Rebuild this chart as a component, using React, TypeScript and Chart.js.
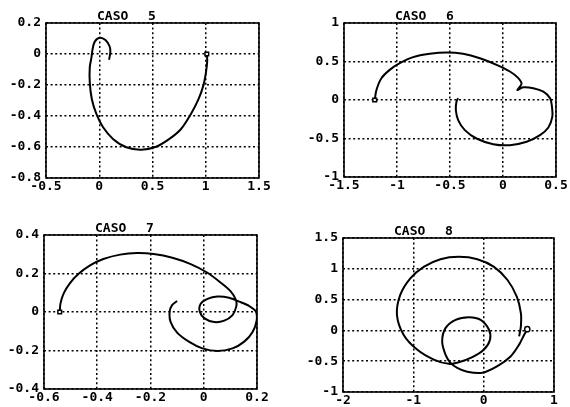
import { useEffect, useRef } from "react";
import { Chart, registerables } from "chart.js";

Chart.register(...registerables);

// ---- CASO 5 ----
const caso5X = [1.01, 1.014, 1.002, 0.977, 0.933, 0.861, 0.768, 0.659, 0.534, 0.394, 0.254, 0.129, 0.036, -0.027, -0.07, -0.089, -0.089, -0.073, -0.063, -0.042, 0.005, 0.058, 0.097, 0.104, 0.092];
const caso5Y = [0, -0.043, -0.118, -0.204, -0.29, -0.387, -0.484, -0.548, -0.598, -0.617, -0.602, -0.548, -0.473, -0.387, -0.29, -0.183, -0.086, -0.022, 0.03, 0.08, 0.105, 0.09, 0.05, 0.011, -0.037];
const caso5XTicks = [-0.5, 0, 0.5, 1, 1.5];
const caso5YTicks = [-0.8, -0.6, -0.4, -0.2, 0, 0.2];

// ---- CASO 6 ----
const caso6X = [-1.21, -1.194, -1.147, -1.069, -0.974, -0.848, -0.691, -0.533, -0.376, -0.218, -0.061, 0.065, 0.14, 0.175, 0.135, 0.19, 0.286, 0.381, 0.444, 0.462, 0.465, 0.428, 0.349, 0.223, 0.065, -0.092, -0.25, -0.36, -0.423, -0.445, -0.439, -0.423];
const caso6Y = [0, 0.13, 0.283, 0.391, 0.478, 0.557, 0.6, 0.617, 0.6, 0.543, 0.457, 0.37, 0.29, 0.21, 0.13, 0.165, 0.153, 0.108, 0.022, -0.09, -0.22, -0.357, -0.457, -0.543, -0.587, -0.574, -0.5, -0.391, -0.261, -0.13, -0.022, 0.022];
const caso6XTicks = [-1.5, -1, -0.5, 0, 0.5];
const caso6YTicks = [-1, -0.5, 0, 0.5, 1];

// ---- CASO 7 ----
const caso7X = [-0.541, -0.538, -0.526, -0.503, -0.471, -0.427, -0.377, -0.314, -0.251, -0.188, -0.118, -0.049, 0.014, 0.064, 0.102, 0.121, 0.122, 0.108, 0.077, 0.039, 0.003, -0.015, -0.012, 0.014, 0.051, 0.095, 0.133, 0.171, 0.196, 0.199, 0.184, 0.152, 0.108, 0.051, -0.005, -0.056, -0.1, -0.125, -0.128, -0.119, -0.1];
const caso7Y = [0, 0.045, 0.097, 0.149, 0.197, 0.242, 0.275, 0.298, 0.306, 0.301, 0.282, 0.249, 0.204, 0.152, 0.106, 0.062, 0.028, -0.016, -0.045, -0.052, -0.033, 0.002, 0.042, 0.068, 0.08, 0.074, 0.054, 0.031, 0.002, -0.042, -0.102, -0.154, -0.189, -0.203, -0.189, -0.154, -0.107, -0.05, 0.002, 0.036, 0.057];
const caso7XTicks = [-0.6, -0.4, -0.2, 0, 0.2];
const caso7YTicks = [-0.4, -0.2, 0, 0.2, 0.4];

// ---- CASO 8 ----
const caso8X = [0.62, 0.576, 0.504, 0.386, 0.195, -0.019, -0.233, -0.376, -0.471, -0.543, -0.59, -0.543, -0.4, -0.21, -0.043, 0.076, 0.09, 0.004, -0.161, -0.353, -0.496, -0.71, -0.947, -1.139, -1.233, -1.186, -1.043, -0.853, -0.614, -0.353, -0.09, 0.147, 0.339, 0.471, 0.529, 0.529, 0.504];
const caso8Y = [0.02, -0.07, -0.231, -0.419, -0.581, -0.688, -0.672, -0.608, -0.527, -0.392, -0.177, 0.037, 0.172, 0.215, 0.172, 0.011, -0.15, -0.311, -0.435, -0.516, -0.543, -0.473, -0.311, -0.07, 0.253, 0.576, 0.844, 1.032, 1.156, 1.194, 1.156, 1.032, 0.818, 0.548, 0.28, 0.065, -0.097];
const caso8XTicks = [-2, -1, 0, 1];
const caso8YTicks = [-1, -0.5, 0, 0.5, 1, 1.5];

const FONT_FAMILY = "'DejaVu Sans Mono', monospace";
const INK = "#000";

// space reserved around each plot frame inside its canvas
const ML = 46;
const MT = 24;
const MR = 14;
const MB = 18;

type Frame = { left: number; top: number; right: number; bottom: number };

type PanelSpec = {
  caso: string;
  xs: number[];
  ys: number[];
  xTicks: number[];
  yTicks: number[];
  marker: "rect" | "circle";
  frame: Frame;
};

const panels: PanelSpec[] = [
  { caso: "5", xs: caso5X, ys: caso5Y, xTicks: caso5XTicks, yTicks: caso5YTicks, marker: "rect", frame: { left: 46, top: 23, right: 259, bottom: 178 } },
  { caso: "6", xs: caso6X, ys: caso6Y, xTicks: caso6XTicks, yTicks: caso6YTicks, marker: "rect", frame: { left: 344, top: 23, right: 556, bottom: 177 } },
  { caso: "7", xs: caso7X, ys: caso7Y, xTicks: caso7XTicks, yTicks: caso7YTicks, marker: "rect", frame: { left: 44, top: 235, right: 257, bottom: 389 } },
  { caso: "8", xs: caso8X, ys: caso8Y, xTicks: caso8XTicks, yTicks: caso8YTicks, marker: "circle", frame: { left: 343, top: 238, right: 554, bottom: 392 } },
];

// Draws the closed box around the plot and the "CASO n" heading.
const framePlugin = {
  id: "frameAndHeading",
  afterDatasetsDraw(chart: any, _args: any, opts: any) {
    const { ctx, chartArea } = chart;
    const { left, top, right, bottom } = chartArea;
    ctx.save();
    ctx.strokeStyle = INK;
    ctx.lineWidth = 1.6;
    ctx.strokeRect(left, top, right - left, bottom - top);
    ctx.fillStyle = INK;
    ctx.font = `bold 13px ${FONT_FAMILY}`;
    ctx.textBaseline = "alphabetic";
    ctx.textAlign = "left";
    ctx.fillText("CASO", left + 51, top - 3);
    ctx.fillText(opts.caso, left + 102, top - 3);
    ctx.restore();
  },
};

function PhasePanel({ spec }: { spec: PanelSpec }) {
  const ref = useRef<HTMLCanvasElement | null>(null);
  const { frame } = spec;
  const width = frame.right - frame.left + ML + MR;
  const height = frame.bottom - frame.top + MT + MB;

  useEffect(() => {
    if (!ref.current) return;
    const points = spec.xs.map((x, i) => ({ x, y: spec.ys[i] }));
    const tickFont = { family: FONT_FAMILY, size: 13, weight: "bold" as const };
    const axisCommon = (ticks: number[]) => ({
      type: "linear" as const,
      min: ticks[0],
      max: ticks[ticks.length - 1],
      afterBuildTicks: (scale: any) => {
        scale.ticks = ticks.map((v) => ({ value: v }));
      },
      grid: { color: INK, lineWidth: 1.5, drawTicks: false },
      border: { display: false, dash: [2, 2.6] },
    });

    const chart = new Chart(ref.current, {
      type: "scatter",
      data: {
        datasets: [
          {
            data: points,
            showLine: true,
            borderColor: INK,
            borderWidth: 2,
            tension: 0.3,
            fill: false,
            pointStyle: spec.marker,
            pointRadius: (c: any) => (c.dataIndex === 0 ? 2.6 : 0),
            pointBackgroundColor: "#fff",
            pointBorderColor: INK,
            pointBorderWidth: 1.5,
            pointHoverRadius: 0,
          },
        ],
      },
      options: {
        responsive: false,
        animation: false,
        events: [],
        layout: { padding: { left: 0, top: MT, right: MR, bottom: 0 } },
        plugins: {
          legend: { display: false },
          tooltip: { enabled: false },
          frameAndHeading: { caso: spec.caso },
        } as any,
        scales: {
          x: {
            ...axisCommon(spec.xTicks),
            position: "bottom",
            afterFit: (scale: any) => {
              scale.height = MB;
            },
            ticks: {
              autoSkip: false,
              maxRotation: 0,
              padding: 1,
              color: INK,
              font: tickFont,
              callback: (v: any) => String(v),
            },
          },
          y: {
            ...axisCommon(spec.yTicks),
            position: "left",
            afterFit: (scale: any) => {
              scale.width = ML;
            },
            ticks: {
              autoSkip: false,
              padding: 5,
              color: INK,
              font: tickFont,
              callback: (v: any) => String(v),
            },
          },
        },
      } as any,
      plugins: [framePlugin],
    });
    return () => chart.destroy();
  }, [spec]);

  return (
    <canvas
      ref={ref}
      width={width}
      height={height}
      style={{
        position: "absolute",
        left: frame.left - ML,
        top: frame.top - MT,
        width,
        height,
      }}
    />
  );
}

export default function App() {
  return (
    <div
      style={{
        position: "absolute",
        left: 0,
        top: 0,
        width: 570,
        height: 407,
        background: "#fff",
        overflow: "hidden",
      }}
    >
      {panels.map((p) => (
        <PhasePanel key={p.caso} spec={p} />
      ))}
    </div>
  );
}
